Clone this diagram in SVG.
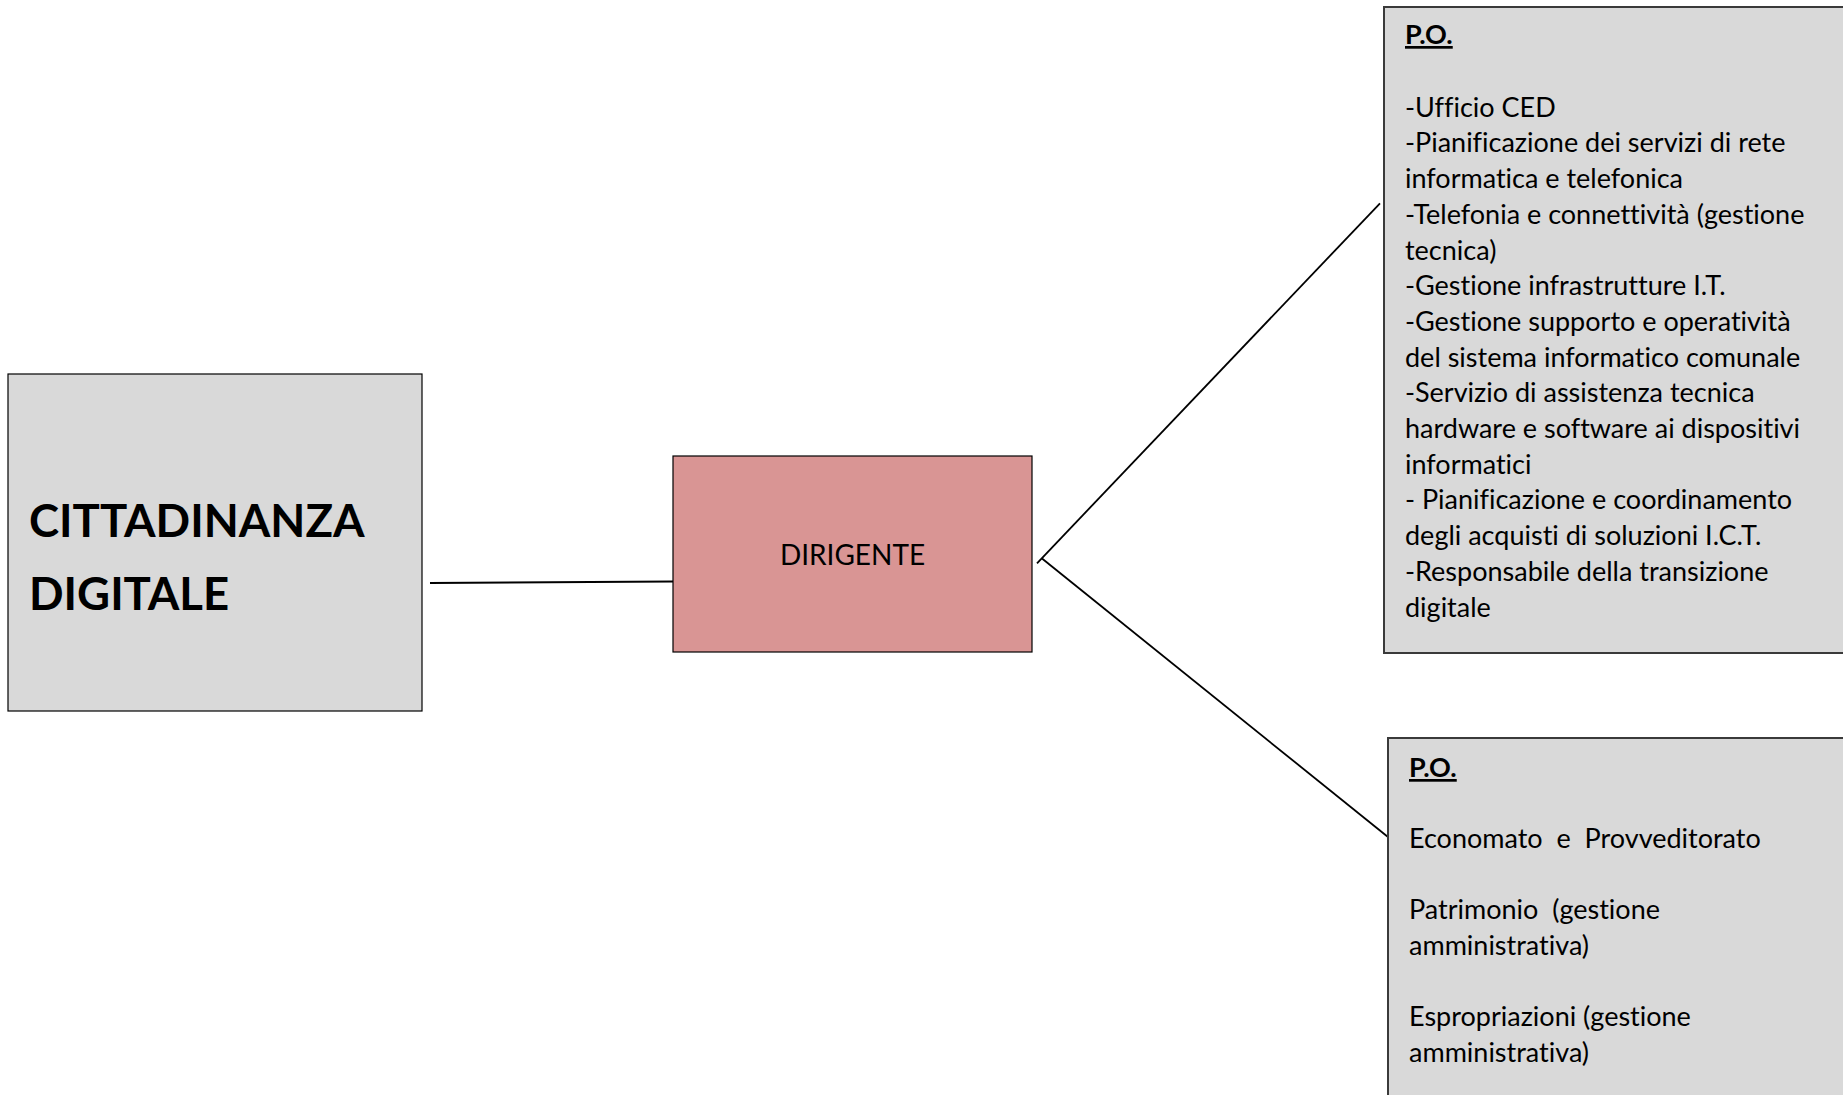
<svg xmlns="http://www.w3.org/2000/svg" width="1843" height="1095" viewBox="0 0 1843 1095">
<style>
.box{fill:#D9D9D9;stroke:#000;stroke-width:1.2}
.po{fill:#D9D9D9;stroke:#3a3a3a;stroke-width:2}
.pink{fill:#D99594;stroke:#000;stroke-width:1.2}
.t{font-family:Lato,"Open Sans",sans-serif;font-size:27px;fill:#000;white-space:pre;font-variant-ligatures:none}
.h{font-weight:bold;text-decoration:underline}
.title{font-family:Lato,"Open Sans",sans-serif;font-size:45.5px;font-weight:bold;fill:#000;font-variant-ligatures:none}
.conn{stroke:#000;stroke-width:1.8;fill:none}
</style>
<rect width="1843" height="1095" fill="#fff"/>
<g id="connectors">
<line class="conn" x1="430" y1="583" x2="673" y2="581.5"/>
<line class="conn" x1="1037" y1="563.3" x2="1380" y2="203.3"/>
<line class="conn" x1="1041.7" y1="558.3" x2="1388" y2="837"/>
</g>
<g id="cittadinanza">
<rect class="box" x="8" y="374" width="414" height="337"/>
<text class="title" x="29" y="537">CITTADINANZA</text>
<text class="title" x="29" y="610">DIGITALE</text>
</g>
<g id="dirigente">
<rect class="pink" x="673" y="456" width="359" height="196"/>
<text class="t" x="852.5" y="565" text-anchor="middle" style="font-size:28px">DIRIGENTE</text>
</g>
<g id="po1">
<rect class="po" x="1384" y="7" width="470" height="646"/>
<text class="t h" x="1405" y="44">P.O.</text>
<text class="t" x="1405" y="116.7">-Ufficio CED</text>
<text class="t" x="1405" y="152.4">-Pianificazione dei servizi di rete</text>
<text class="t" x="1405" y="188.1">informatica e telefonica</text>
<text class="t" x="1405" y="223.8">-Telefonia e connettività (gestione</text>
<text class="t" x="1405" y="259.5">tecnica)</text>
<text class="t" x="1405" y="295.2">-Gestione infrastrutture I.T.</text>
<text class="t" x="1405" y="330.9">-Gestione supporto e operatività</text>
<text class="t" x="1405" y="366.6">del sistema informatico comunale</text>
<text class="t" x="1405" y="402.3">-Servizio di assistenza tecnica</text>
<text class="t" x="1405" y="438">hardware e software ai dispositivi</text>
<text class="t" x="1405" y="473.7">informatici</text>
<text class="t" x="1405" y="509.4">- Pianificazione e coordinamento</text>
<text class="t" x="1405" y="545.1">degli acquisti di soluzioni I.C.T.</text>
<text class="t" x="1405" y="580.8">-Responsabile della transizione</text>
<text class="t" x="1405" y="616.5">digitale</text>
</g>
<g id="po2">
<rect class="po" x="1388" y="738" width="466" height="370"/>
<text class="t h" x="1409" y="777">P.O.</text>
<text class="t" x="1409" y="847.5">Economato  e  Provveditorato</text>
<text class="t" x="1409" y="919">Patrimonio  (gestione</text>
<text class="t" x="1409" y="954.5">amministrativa)</text>
<text class="t" x="1409" y="1026">Espropriazioni (gestione</text>
<text class="t" x="1409" y="1061.5">amministrativa)</text>
</g>
</svg>
